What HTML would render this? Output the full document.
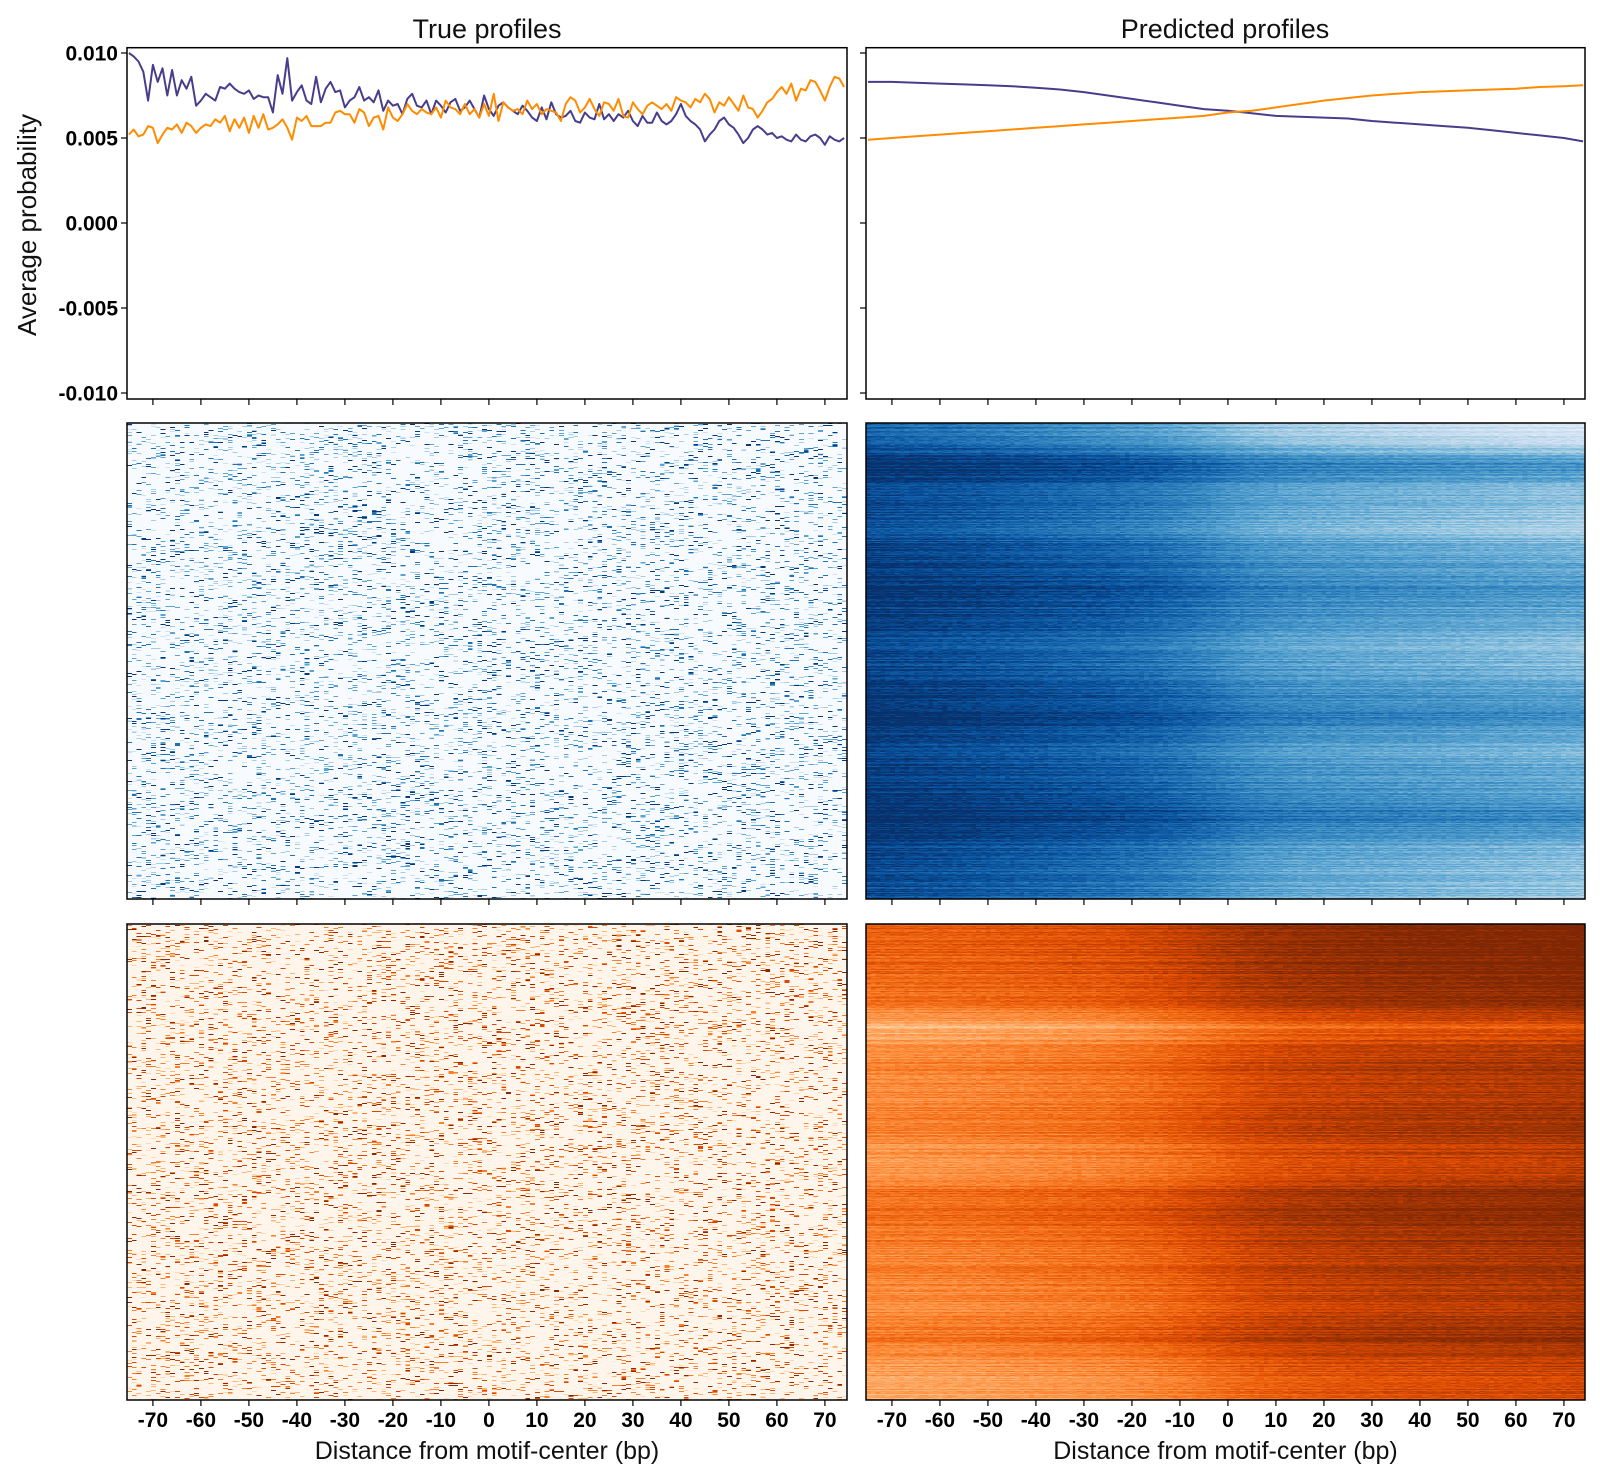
<!DOCTYPE html>
<html><head><meta charset="utf-8">
<style>
html,body{margin:0;padding:0;background:#fff;}
#wrap{position:relative;width:1600px;height:1481px;overflow:hidden;font-family:"Liberation Sans",sans-serif;}
canvas{position:absolute;image-rendering:pixelated;}
svg{position:absolute;left:0;top:0;}
</style></head>
<body>
<div id="wrap">
<canvas id="hmTB" width="150" height="476" style="left:127px;top:423px;width:720px;height:476px"></canvas>
<canvas id="hmPB" width="150" height="476" style="left:866px;top:423px;width:719px;height:476px"></canvas>
<canvas id="hmTO" width="150" height="476" style="left:127px;top:924px;width:720px;height:476px"></canvas>
<canvas id="hmPO" width="150" height="476" style="left:866px;top:924px;width:719px;height:476px"></canvas>
<svg id="svg" width="1600" height="1481" xmlns="http://www.w3.org/2000/svg"></svg>
</div>
<script>
// ---- data (values x1e-4) ----
const trueBlue=[100,98,95,89,72,93,83,91,75,90,75,84,79,86,69,72,76,74,72,80,79,82,79,77,76,78,73,75,74,74,65,87,76,97,72,77,81,72,70,86,71,79,83,77,78,68,72,74,80,72,74,71,78,66,72,69,70,64,73,76,69,68,72,64,72,69,65,71,73,66,68,72,67,62,75,67,63,69,71,68,66,64,69,66,62,60,68,61,71,64,62,63,66,60,59,65,62,61,70,61,64,60,64,62,66,60,57,63,59,59,65,60,58,60,64,70,63,60,58,55,48,52,55,60,62,58,56,52,47,50,55,57,55,52,53,50,51,49,48,52,49,48,51,52,50,46,51,49,48,50];
const trueOrange=[52,55,51,52,57,56,47,52,56,55,58,53,59,57,53,56,58,57,61,59,63,54,61,56,62,53,63,56,64,55,56,58,61,56,49,62,60,63,57,57,57,59,59,65,66,64,64,59,67,65,57,62,63,55,68,62,60,64,70,66,64,67,65,64,68,62,72,68,67,64,70,64,67,62,70,63,76,60,71,68,66,67,64,72,67,70,64,67,66,65,60,70,74,72,65,68,73,67,63,71,70,66,73,63,62,71,67,64,69,71,69,67,70,66,74,72,71,68,73,71,76,73,65,71,69,74,70,66,75,68,67,62,66,71,73,77,80,76,82,72,79,78,84,83,78,72,80,86,85,80];
const predX=[-75,-70,-65,-60,-55,-50,-45,-40,-35,-30,-25,-20,-15,-10,-5,0,5,10,15,20,25,30,35,40,45,50,55,60,65,70,74];
const predBlue=[83,83,82.5,82,81.5,81,80.5,79.5,78.5,77,75,73,71,69,67,66,64.5,63,62.5,62,61.5,60,59,58,57,56,54.5,53,51.5,50,48];
const predOrange=[49,50,51,52,53,54,55,56,57,58,59,60,61,62,63,65,66,68,70,72,73.5,75,76,77,77.5,78,78.5,79,80,80.5,81];
const xTicks=[-70,-60,-50,-40,-30,-20,-10,0,10,20,30,40,50,60,70];
const yTicks=[0.010,0.005,0.000,-0.005,-0.010];
const yTickLabels=["0.010","0.005","0.000","-0.005","-0.010"];
// heatmap coarse profiles
const predBlueCols=[0.93,0.91,0.89,0.86,0.83,0.8,0.76,0.7,0.62,0.58,0.56,0.54,0.52,0.5,0.48,0.46];
const predBlueRows=[-0.22,-0.15,0.12,0,-0.05,-0.1,0,0.05,0.1,0.05,0,-0.05,0,0.05,0.15,0.05,0,0.05,0.05,0.15,0.05,-0.05,-0.05,-0.06];
const predOrangeCols=[0.52,0.53,0.54,0.56,0.58,0.6,0.64,0.7,0.76,0.8,0.82,0.84,0.85,0.86,0.87,0.89];
const predOrangeRows=[0.13,0.15,0.12,0.1,0.05,-0.18,-0.05,0,-0.02,0,0.02,-0.06,-0.08,0.08,0.1,0.05,0,0.03,-0.03,0,0.05,-0.06,-0.1,-0.12];

const NS="http://www.w3.org/2000/svg";
const svg=document.getElementById('svg');
function el(tag,attrs,parent){const e=document.createElementNS(NS,tag);for(const k in attrs)e.setAttribute(k,attrs[k]);(parent||svg).appendChild(e);return e;}
const panels={L:{x0:127,x1:847},R:{x0:866,x1:1585}};
function xs(p,v){return p.x0+(v+75.4)*4.8;}
function ys(v){return 223-v*17000;}
const rows=[{top:47.7,bot:399},{top:423,bot:899},{top:924,bot:1400}];

const blues=[[247,251,255],[222,235,247],[198,219,239],[158,202,225],[107,174,214],[66,146,198],[33,113,181],[8,81,156],[8,48,107]];
const oranges=[[255,245,235],[254,230,206],[253,208,162],[253,174,107],[253,141,60],[241,105,19],[217,72,1],[166,54,3],[127,39,4]];
function cmap(c,v){v=Math.max(0,Math.min(1,v));const f=v*(c.length-1);const i=Math.min(c.length-2,Math.floor(f));const t=f-i;return c[i].map((a,k)=>Math.round(a+(c[i+1][k]-a)*t));}
function hsh(a,b,s){let h=(a*374761393+b*668265263+s*2147483647)|0;h=(h^(h>>>13))*1274126177|0;h=h^(h>>>16);return ((h>>>0)%100000)/100000;}
function coarse(arr,t){const f=t*(arr.length-1);const i=Math.min(arr.length-2,Math.floor(f));const r=f-i;return arr[i]*(1-r)+arr[i+1]*r;}
function sparse(id,c,seed){const cv=document.getElementById(id),ctx=cv.getContext('2d');const im=ctx.createImageData(150,476);
 for(let r=0;r<476;r++)for(let x=0;x<150;x++){const u=hsh(x,r,seed);let v=0;
  if(u<0.022)v=0.97;else if(u<0.05)v=0.75;else if(u<0.085)v=0.55;else if(u<0.115)v=0.35;else if(u<0.135)v=0.2;
  const col=cmap(c,v),o=(r*150+x)*4;im.data[o]=col[0];im.data[o+1]=col[1];im.data[o+2]=col[2];im.data[o+3]=255;}
 ctx.putImageData(im,0,0);}
function dense(id,c,cols,rws,seed,topLightRight){const cv=document.getElementById(id),ctx=cv.getContext('2d');const im=ctx.createImageData(150,476);
 for(let r=0;r<476;r++){const rn=(hsh(r,7,seed)-0.5)*0.14;const rb=coarse(rws,r/475);
  for(let x=0;x<150;x++){let v=coarse(cols,x/149)+rb*(topLightRight?(0.6+0.8*x/149):1)+rn+(hsh(x,r,seed+3)-0.5)*0.1;
  const col=cmap(c,v),o=(r*150+x)*4;im.data[o]=col[0];im.data[o+1]=col[1];im.data[o+2]=col[2];im.data[o+3]=255;}}
 ctx.putImageData(im,0,0);}
sparse('hmTB',blues,11);
sparse('hmTO',oranges,29);
dense('hmPB',blues,predBlueCols,predBlueRows,5,true);
dense('hmPO',oranges,predOrangeCols,predOrangeRows,17,false);

function line(p,xv,vals,color,name){const pts=vals.map((v,i)=>xs(p,xv?xv[i]:i-75).toFixed(1)+','+ys(v*1e-4).toFixed(1)).join(' ');
 const e=el('polyline',{points:pts,fill:'none',stroke:color,'stroke-width':2,'stroke-linejoin':'round'});
 
 }
line(panels.L,null,trueBlue,'#483d8b','true-profile-strand1-line');
line(panels.L,null,trueOrange,'#ff8c00','true-profile-strand2-line');
line(panels.R,predX,predBlue,'#483d8b','predicted-profile-strand1-line');
line(panels.R,predX,predOrange,'#ff8c00','predicted-profile-strand2-line');

['L','R'].forEach(k=>{const p=panels[k];rows.forEach((rw,ri)=>{
 const f=el('rect',{x:p.x0,y:rw.top,width:p.x1-p.x0,height:rw.bot-rw.top,fill:'none',stroke:'#000','stroke-width':1.5});
 
 
 xTicks.forEach(t=>{const X=xs(p,t);el('line',{x1:X,x2:X,y1:rw.bot,y2:rw.bot+6,stroke:'#000','stroke-width':1.2});
  if(ri===2){const tx=el('text',{x:X,y:1427,'text-anchor':'middle','font-size':21,'font-weight':'bold',fill:'#000'});tx.textContent=t;
   
   }});
 if(ri===0){yTicks.forEach((t,i)=>{const Y=ys(t);el('line',{x1:p.x0-6,x2:p.x0,y1:Y,y2:Y,stroke:'#000','stroke-width':1.2});
  if(k==='L'){const tx=el('text',{x:118,y:Y+7.5,'text-anchor':'end','font-size':21,'font-weight':'bold',fill:'#000'});tx.textContent=yTickLabels[i];
   
   }});}
});
 const xl=el('text',{x:(p.x0+p.x1)/2,y:1459,'text-anchor':'middle','font-size':25,fill:'#111'});xl.textContent='Distance from motif-center (bp)';
 
 
});
const t1=el('text',{x:487,y:38,'text-anchor':'middle','font-size':27,fill:'#111'});t1.textContent='True profiles';


const t2=el('text',{x:1225,y:38,'text-anchor':'middle','font-size':27,fill:'#111'});t2.textContent='Predicted profiles';


const yl=el('text',{x:0,y:0,'text-anchor':'middle','font-size':26,fill:'#111',transform:'translate(36,225) rotate(-90)'});yl.textContent='Average probability';


</script>
</body></html>
